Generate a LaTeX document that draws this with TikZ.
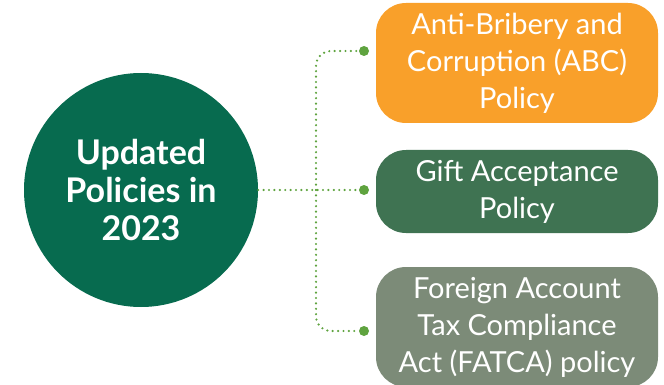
\documentclass[tikz,border=0pt]{standalone}
\usepackage{fontspec}
\setmainfont{Lato}
\usepackage{tikz}
\usetikzlibrary{positioning}

\definecolor{hubgreen}{HTML}{076B4F}
\definecolor{abcorange}{HTML}{F9A02A}
\definecolor{giftgreen}{HTML}{3F7352}
\definecolor{fatcagray}{HTML}{7C8B78}
\definecolor{linkgreen}{HTML}{5FA33F}

\tikzset{
	policy/.style={rounded corners=30pt,minimum width=282pt,text=white,align=center,
		font=\fontsize{29}{37}\selectfont},
	tip/.style={circle,fill=linkgreen,inner sep=0pt,minimum size=10pt},
	link/.style={draw=linkgreen,line width=2.4pt,line cap=round,dash pattern=on 0pt off 5.4pt,rounded corners=15pt}
}

\begin{document}
\begin{tikzpicture}[x=1pt,y=-1pt]
	\useasboundingbox (0,0) rectangle (664,385);
	\node[circle,fill=hubgreen,minimum size=234pt,text=white,align=center,
		font=\bfseries\fontsize{34}{38}\selectfont] (hub) at (141,190) {Updated\\Policies in\\2023};
	\node[policy,fill=abcorange,minimum height=120pt] (abc) at (517,63) {Anti-Bribery and\\Corruption (ABC)\\Policy};
	\node[policy,fill=giftgreen,minimum height=83pt] (gift) at (517,191.5) {Gift Acceptance\\Policy};
	\node[policy,fill=fatcagray,minimum height=120pt] (fatca) at (517,327) {Foreign Account\\Tax Compliance\\Act (FATCA) policy};
	% dots and links
	\node[tip] (dabc) at (364,51) {};
	\node[tip] (dgift) at (364,190) {};
	\node[tip] (dfatca) at (364,331) {};
	\coordinate (split) at (316,190);
	\draw[link] (hub.east) -- (dgift.west);
	\draw[link] (split) |- (dabc.west);
	\draw[link] (split) |- (dfatca.west);
\end{tikzpicture}
\end{document}
